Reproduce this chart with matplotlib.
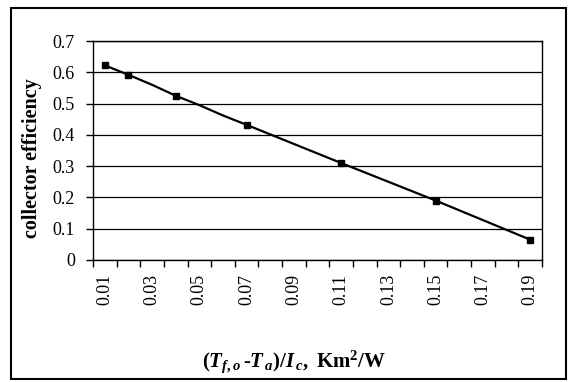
import matplotlib.pyplot as plt
from matplotlib.patches import Rectangle
import numpy as np

# data (unmarked points only shape the line)
x_vals = [0.01, 0.02, 0.03, 0.04, 0.05, 0.06, 0.07, 0.11, 0.15, 0.19]
eff = [0.622, 0.592, 0.560, 0.525, 0.495, 0.462, 0.432, 0.310, 0.190, 0.065]
marked = [0, 1, 3, 6, 7, 8, 9]
x_tick_labels = ['0.01', '0.03', '0.05', '0.07', '0.09', '0.11', '0.13', '0.15', '0.17', '0.19']

plt.rcParams['font.family'] = 'Liberation Serif'
plt.rcParams['mathtext.fontset'] = 'custom'
plt.rcParams['mathtext.rm'] = 'Liberation Serif:bold'
plt.rcParams['mathtext.it'] = 'Liberation Serif:italic:bold'
plt.rcParams['mathtext.bf'] = 'Liberation Serif:bold'

fig = plt.figure(figsize=(5.69, 3.82), dpi=100)
W, H = 569, 382
ax = fig.add_axes([93 / W, 1 - 260 / H, (542 - 93) / W, (260 - 41) / H])

# outer chart frame
fig.patches.append(Rectangle((11 / W, 3 / H), (566 - 11) / W, (374 - 3) / H,
                             transform=fig.transFigure, fill=False,
                             edgecolor='black', linewidth=1.5))

ax.plot(x_vals, eff, '-', color='black', linewidth=1.6, zorder=3)
ax.plot([x_vals[i] for i in marked], [eff[i] for i in marked], 's',
        color='black', markersize=5, zorder=4)

ax.set_xlim(0.005, 0.195)
ax.set_ylim(0, 0.7)
ax.set_yticks(np.arange(0, 0.71, 0.1))
ax.set_yticklabels(['0', '0.1', '0.2', '0.3', '0.4', '0.5', '0.6', '0.7'])
ax.yaxis.grid(True, color='black', linewidth=0.9)
ax.set_axisbelow(True)

ax.set_xticks([float(s) for s in x_tick_labels])
ax.set_xticklabels(x_tick_labels, rotation=90)
ax.tick_params(axis='x', which='major', length=0, pad=10)
ax.set_xticks(np.arange(0.005, 0.1951, 0.01), minor=True)
ax.tick_params(axis='x', which='minor', length=5, width=1, direction='out')
ax.tick_params(axis='y', length=5, width=1, direction='out', pad=8)
ax.tick_params(labelsize=13)

for s in ax.spines.values():
    s.set_linewidth(1.0)
    s.set_color('black')

fig.text(32 / W, 1 - 158 / H, 'collector efficiency', fontsize=14.5, fontweight='bold',
         rotation=90, ha='center', va='center')
fig.text(294 / W, 1 - 362 / H, r'$(T_{f,o}\,\text{-}T_{\,a})/I_{\,c},\ \mathrm{Km^2/W}$',
         fontsize=15, ha='center', va='center')

fig.savefig('out.png', dpi=100)
